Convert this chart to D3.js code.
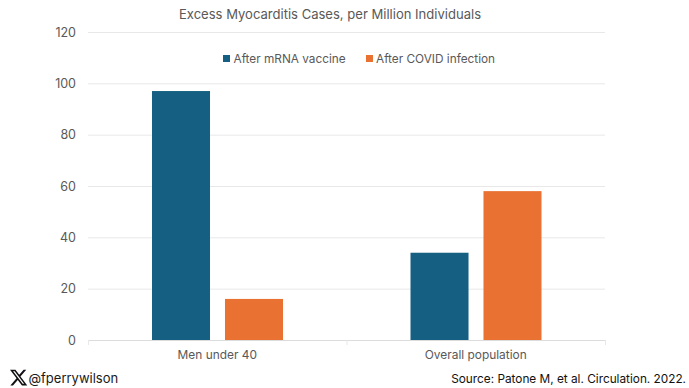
<!DOCTYPE html>
<html><head><meta charset="utf-8">
<script src="https://cdn.jsdelivr.net/npm/d3@7"></script>
<style>
html,body{margin:0;padding:0;background:#fff}
svg{display:block}
text{font-family:"Inter","Noto Sans",sans-serif}
</style></head><body>
<svg id="c" width="689" height="388"></svg>
<script>
const categories = ["Men under 40", "Overall population"];
const seriesNames = ["After mRNA vaccine", "After COVID infection"];
const vaccineValues = [97, 34];
const infectionValues = [16, 58];
const yTicks = [0, 20, 40, 60, 80, 100, 120];
const colors = ["#156082", "#E97132"];
const chartTitle = "Excess Myocarditis Cases, per Million Individuals";
const handle = "@fperrywilson";
const source = "Source: Patone M, et al. Circulation. 2022.";

const svg = d3.select("#c");
const y = d3.scaleLinear().domain([0,120]).range([340,32]);
const x0 = d3.scaleBand().domain(categories).range([88,605]);
const x1 = d3.scaleBand().domain(seriesNames).range([64,195]).paddingInner(0.205);

// gridlines
svg.append("g").selectAll("line").data(yTicks).join("line")
  .attr("x1",88).attr("x2",605).attr("y1",d=>y(d)+.5).attr("y2",d=>y(d)+.5)
  .attr("stroke",d=>d===0?"#dcdcdc":"#e8e8e8").attr("stroke-width",1);

// y axis labels
const yAxis = svg.append("g").attr("transform","translate(76,0)")
  .call(d3.axisLeft(y).tickValues(yTicks).tickSize(0).tickPadding(0));
yAxis.select(".domain").remove();
yAxis.selectAll("text").attr("font-size",12.5).attr("fill","#595959")
  .style("font-family",'"Inter","Noto Sans",sans-serif');

// x axis labels
const xAxis = svg.append("g").attr("transform","translate(0,340)")
  .call(d3.axisBottom(x0).tickSize(0).tickPadding(11));
xAxis.select(".domain").remove();
xAxis.selectAll("text").attr("font-size",11.9).attr("fill","#595959")
  .style("font-family",'"Inter","Noto Sans",sans-serif');
// category separator ticks
svg.append("g").selectAll("line").data([88, x0(categories[1]), 605]).join("line")
  .attr("x1",d=>d+.5).attr("x2",d=>d+.5).attr("y1",340).attr("y2",345).attr("stroke","#e8e8e8");

// bars
const rows = categories.map((c,i)=>({c, vals:[vaccineValues[i], infectionValues[i]]}));
svg.append("g").selectAll("g").data(rows).join("g")
  .attr("transform",d=>`translate(${x0(d.c)},0)`)
  .selectAll("rect").data(d=>d.vals.map((v,i)=>({v,s:seriesNames[i],i}))).join("rect")
  .attr("x",d=>x1(d.s)).attr("width",x1.bandwidth())
  .attr("y",d=>y(d.v)).attr("height",d=>y(0)-y(d.v))
  .attr("fill",d=>colors[d.i]);

// title
svg.append("text").attr("x",330).attr("y",18.5).attr("text-anchor","middle")
  .attr("font-size",13.05).attr("fill","#595959").text(chartTitle);

// legend
const legendX = [223, 366], legendTextX = [233.5, 376];
const lg = svg.append("g").selectAll("g").data(seriesNames).join("g");
lg.append("rect").attr("x",(d,i)=>legendX[i]).attr("y",55).attr("width",7).attr("height",7).attr("fill",(d,i)=>colors[i]);
lg.append("text").attr("x",(d,i)=>legendTextX[i]).attr("y",62.5).attr("font-size",11.8).attr("fill","#595959").text(d=>d);

// footer
const logo = svg.append("g").attr("transform","translate(9,368) scale(0.8)");
logo.append("path").attr("fill","#111")
  .attr("d","M18.244 2.25h3.308l-7.227 8.26 8.502 11.24H16.17l-5.214-6.817L4.99 21.75H1.68l7.73-8.835L1.254 2.25H8.08l4.713 6.231zm-1.161 17.52h1.833L7.084 4.126H5.117z");
svg.append("text").attr("x",28.5).attr("y",383).attr("font-size",13).attr("fill","#1a1a1a").text(handle);
svg.append("text").attr("x",686).attr("y",383).attr("text-anchor","end").attr("font-size",11.8).attr("fill","#111").text(source);
</script>
</body></html>
